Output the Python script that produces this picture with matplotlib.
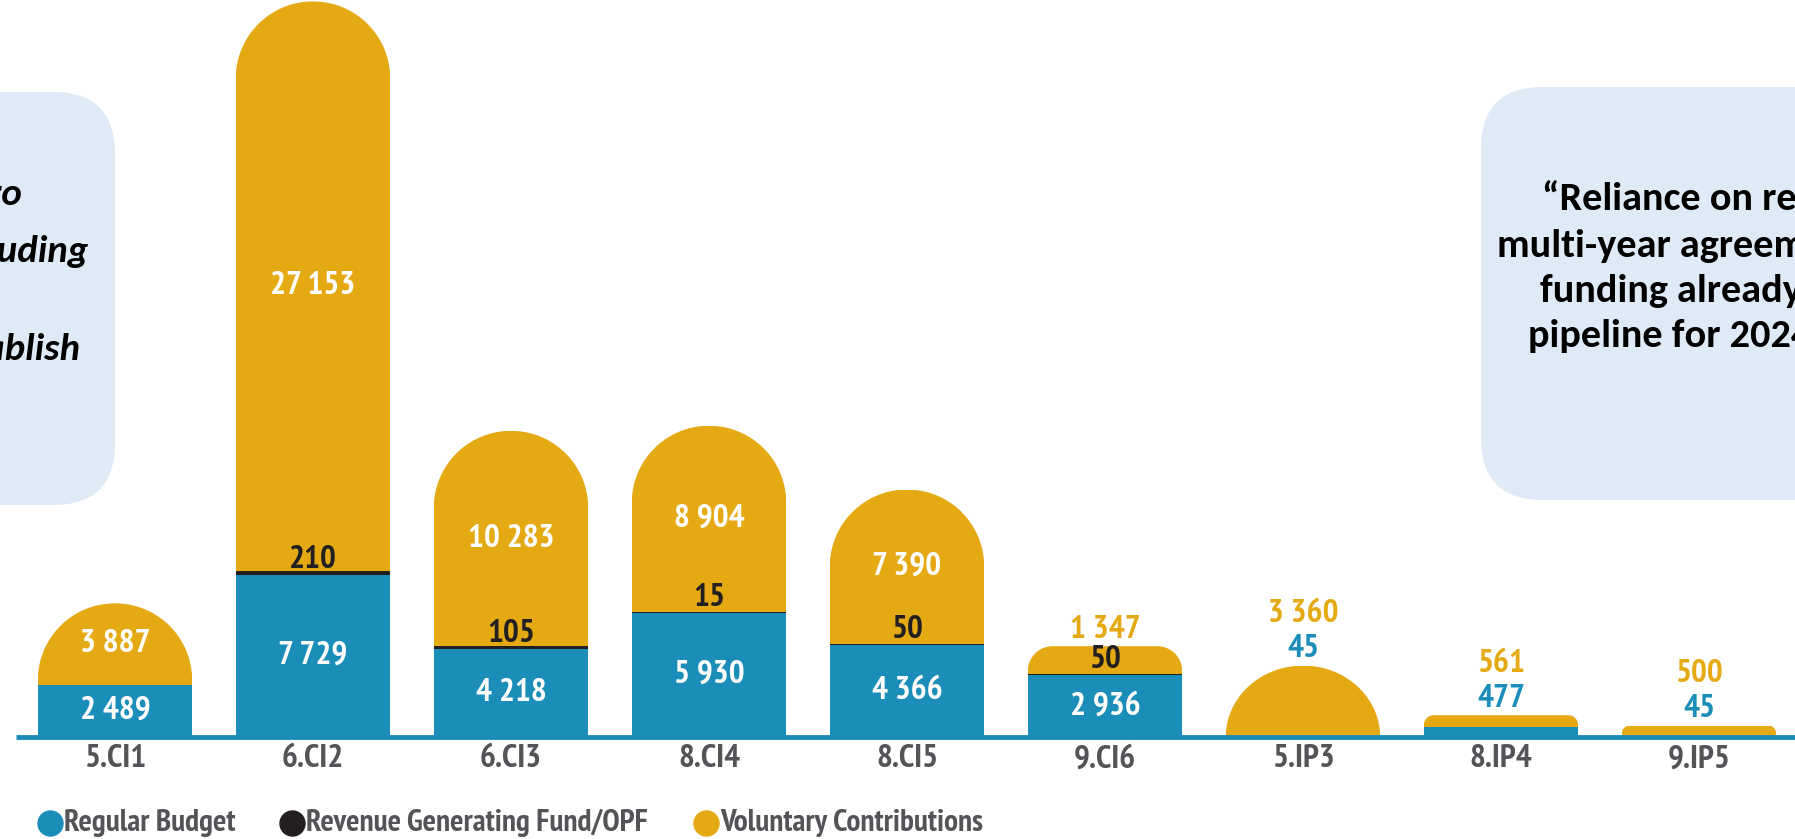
import numpy as np
import matplotlib
matplotlib.use('Agg')
import matplotlib.pyplot as plt
from matplotlib.patches import PathPatch, FancyBboxPatch
from matplotlib.path import Path
from matplotlib.lines import Line2D

categories = ['5.CI1', '6.CI2', '6.CI3', '8.CI4', '8.CI5', '9.CI6', '5.IP3', '8.IP4', '9.IP5']
regular_budget = [2489, 7729, 4218, 5930, 4366, 2936, 45, 477, 45]
revenue_fund = [0, 210, 105, 15, 50, 50, 0, 0, 0]
voluntary = [3887, 27153, 10283, 8904, 7390, 1347, 3360, 561, 500]
legend_labels = ['Regular Budget', 'Revenue Generating Fund/OPF', 'Voluntary Contributions']

left_quote = ['\u201cFunding gaps close to zero', 'for some outputs, including', 'efforts to establish']
right_quote = ['\u201cReliance on regular', 'multi-year agreements and', 'funding already in the',
               'pipeline for 2024-2025\u201d']

BLUE = '#1A8DB8'
GOLD = '#E5A914'
BLACK = '#231F20'
GREY = '#535457'
BOX = '#DEEAF6'
NARROW = ['PT Sans Narrow', 'Roboto Condensed', 'DejaVu Sans']
QUOTE = ['Carlito', 'Lato', 'DejaVu Sans']

W, H = 1795, 839
fig = plt.figure(figsize=(W / 100, H / 100), dpi=100)
base_px = 737
ax = fig.add_axes([0, (H - base_px) / H, 1, base_px / H])
ax.set_xlim(-115 / 198, (W - 115) / 198)
ax.set_ylim(0, 35160)
ax.axis('off')

x = np.arange(len(categories))
rb = np.array(regular_budget)
rg = np.array(revenue_fund)
vc = np.array(voluntary)
total = rb + rg + vc
width = 0.78

# corner rounding of each bar top, in pixels
corner_px = [77, 77, 77, 77, 77, 25, 77, 10, 8]

fig.canvas.draw()
p0 = ax.transData.transform((0, 0))
p1 = ax.transData.transform((1, 1000))
px_x = p1[0] - p0[0]
px_y = (p1[1] - p0[1]) / 1000


def dome(xc, h, r):
    x0, x1 = xc - width / 2, xc + width / 2
    rx = min(r / px_x, width / 2)
    ry = min(r / px_y, h)
    t1 = np.linspace(np.pi, np.pi / 2, 30)
    t2 = np.linspace(np.pi / 2, 0, 30)
    pts = [(x0, 0), (x0, h - ry)]
    pts += list(zip(x0 + rx + rx * np.cos(t1), h - ry + ry * np.sin(t1)))
    pts += list(zip(x1 - rx + rx * np.cos(t2), h - ry + ry * np.sin(t2)))
    pts += [(x1, 0), (x0, 0)]
    return Path(pts, closed=True)


def fmt(v):
    return f'{v:,}'.replace(',', ' ')


b1 = ax.bar(x, rb, width, color=BLUE, linewidth=0)
b2 = ax.bar(x, rg, width, bottom=rb, color=BLACK, linewidth=0)
b3 = ax.bar(x, vc, width, bottom=rb + rg, color=GOLD, linewidth=0)
for i in range(len(categories)):
    clip = PathPatch(dome(x[i], total[i], corner_px[i]), transform=ax.transData,
                     facecolor='none', edgecolor='none')
    ax.add_patch(clip)
    for bars in (b1, b2, b3):
        bars[i].set_clip_path(clip)

ax.plot([-0.5, 9], [0, 0], color=BLUE, lw=3.5, zorder=5, clip_on=False,
        solid_capstyle='butt')

lab = dict(fontfamily=NARROW, fontweight='bold', fontsize=24, ha='center')
for i in range(len(categories)):
    outside = []
    if rb[i] >= 1000:
        ax.text(x[i], rb[i] / 2, fmt(rb[i]), color='white', va='center', **lab)
    else:
        outside.append((rb[i], BLUE))
    if rg[i] > 0:
        ax.annotate(str(rg[i]), (x[i], rb[i]), xytext=(0, 0), textcoords='offset points',
                    color=BLACK, va='bottom', **lab)
    if vc[i] >= 3500:
        ax.text(x[i], rb[i] + rg[i] + vc[i] / 2, fmt(vc[i]), color='white', va='center', **lab)
    else:
        outside.insert(0, (vc[i], GOLD))
    for k, (v, c) in enumerate(outside[::-1]):
        ax.annotate(fmt(v), (x[i], total[i]), xytext=(0, 12 + 25 * k),
                    textcoords='offset points', color=c, va='center', **lab)

for i, c in enumerate(categories):
    ax.annotate(c, (x[i], 0), xytext=(0, -16), textcoords='offset points',
                color=GREY, va='center', fontfamily=NARROW, fontweight='bold',
                fontsize=24, ha='center')

# overlay in pixel coordinates for boxes and legend
ov = fig.add_axes([0, 0, 1, 1], zorder=-1)
ov.set_xlim(0, W)
ov.set_ylim(H, 0)
ov.axis('off')
ov.patch.set_alpha(0)

ov.add_patch(FancyBboxPatch((-120, 92), 235, 413, boxstyle='round,pad=0,rounding_size=62',
                            facecolor=BOX, edgecolor='none'))
ov.add_patch(FancyBboxPatch((1481, 87), 400, 413, boxstyle='round,pad=0,rounding_size=62',
                            facecolor=BOX, edgecolor='none'))

for txt, xe, yb in zip(left_quote, [22, 88, 80], [205, 262, 360]):
    ov.text(xe, yb, txt, ha='right', va='baseline', fontsize=28, fontfamily=QUOTE,
            fontweight='bold', fontstyle='italic', color='black')
for txt, xs, yb in zip(right_quote, [1542, 1497, 1540, 1528], [210, 257, 302, 347]):
    ov.text(xs, yb, txt, ha='left', va='baseline', fontsize=29, fontfamily=QUOTE,
            fontweight='bold', color='black')

for lbl, col, cx, tx in zip(legend_labels, [BLUE, BLACK, GOLD], [50, 292, 706], [64, 306, 720]):
    ov.add_line(Line2D([cx], [823], marker='o', markersize=18, color=col, linestyle='none'))
    ov.text(tx, 823, lbl, ha='left', va='center', fontsize=22.5, fontfamily=NARROW,
            fontweight='bold', color=GREY)

fig.savefig('out.png', dpi=100)
